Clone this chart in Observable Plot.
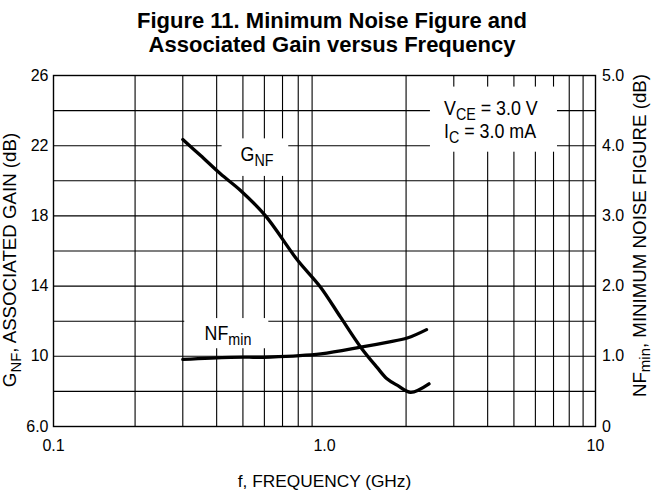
<!DOCTYPE html>
<html>
<head>
<meta charset="utf-8">
<script src="https://cdn.jsdelivr.net/npm/d3@7"></script>
<script src="https://cdn.jsdelivr.net/npm/@observablehq/plot@0.6"></script>
<style>
  body { margin: 0; background: #fff; }
  #title {
    width: 642px; padding: 9px 0 0 11px; margin: 0;
    font: bold 22px/24px "Liberation Sans", Arial, Helvetica, sans-serif;
    text-align: center; color: #000;
  }
  #chart svg { display: block; }
</style>
</head>
<body>
<div id="title">Figure 11. Minimum Noise Figure and<br>Associated Gain versus Frequency</div>
<div id="chart"></div>
<script>
// ---- data ----
const freqGNF = [0.3, 0.349, 0.413, 0.49, 0.606, 0.793, 0.967, 1.146, 1.36, 1.56, 1.70, 1.86, 2.08, 2.43];
const gainGNF = [22.35, 21.44, 20.4, 19.45, 18.0, 15.5, 13.94, 12.23, 10.52, 9.38, 8.72, 8.34, 7.95, 8.43];
const freqNF  = [0.3, 0.45, 0.632, 0.97, 1.36, 1.70, 2.02, 2.38];
const nfMin   = [0.955, 0.985, 0.99, 1.035, 1.13, 1.2, 1.26, 1.38];

const xTicks = [0.1, 1, 10];
const xTickLabels = ["0.1", "1.0", "10"];
const leftTicks = [6, 10, 14, 18, 22, 26];
const leftTickLabels = ["6.0", "10", "14", "18", "22", "26"];
const rightTicks = [0, 1, 2, 3, 4, 5];
const rightTickLabels = ["0", "1.0", "2.0", "3.0", "4.0", "5.0"];

const gridFreqs = [0.2, 0.3, 0.4, 0.5, 0.6, 0.7, 0.8, 0.9, 2, 3, 4, 5, 6, 7, 8, 9];
const gridGain = [8, 10, 12, 14, 16, 18, 20, 22, 24];

// annotation labels and their white backing boxes
const labelText = ["G_{NF}", "NF_{min}", "V_{CE} = 3.0 V\nI_{C} = 3.0 mA"];
const labelFreq = [0.49, 0.361, 2.76];
const labelGain = [21.53, 11.37, 23.54];
const boxF1 = [0.419, 0.305, 2.46];
const boxF2 = [0.738, 0.623, 7.24];
const boxG1 = [22.39, 12.15, 25.34];
const boxG2 = [20.25, 10.43, 21.63];

const xTitle = "f, FREQUENCY (GHz)";
const yLeftTitle = "G_{NF}, ASSOCIATED GAIN (dB)";
const yRightTitle = "NF_{min}, MINIMUM NOISE FIGURE (dB)";

// right axis (dB noise figure) maps onto left axis (dB gain)
const nfToGain = v => v * 4 + 6;

const gnfData = freqGNF.map((f, i) => ({f, g: gainGNF[i]}));
const nfData = freqNF.map((f, i) => ({f, nf: nfMin[i]}));
const labels = labelText.map((t, i) => ({t, f: labelFreq[i], g: labelGain[i]}));
const boxes = boxF1.map((f1, i) => ({f1, f2: boxF2[i], g1: boxG1[i], g2: boxG2[i]}));

const chart = Plot.plot({
  width: 653, height: 440,
  marginLeft: 53, marginRight: 58, marginTop: 18, marginBottom: 71,
  style: {fontFamily: "'Liberation Sans', Arial, Helvetica, sans-serif", fontSize: "16px", background: "white", color: "black"},
  x: {type: "log", domain: [0.1, 10]},
  y: {domain: [6, 26]},
  marks: [
    Plot.ruleX(gridFreqs, {stroke: "black", strokeWidth: 1.1}),
    Plot.ruleY(gridGain, {stroke: "black", strokeWidth: 1.1}),
    Plot.rect(boxes, {x1: "f1", x2: "f2", y1: "g1", y2: "g2", fill: "white"}),
    Plot.frame({stroke: "black", strokeWidth: 1.4}),
    Plot.line(gnfData, {x: "f", y: "g", curve: "catmull-rom", stroke: "black", strokeWidth: 3.3, strokeLinecap: "round"}),
    Plot.line(nfData, {x: "f", y: d => nfToGain(d.nf), curve: "catmull-rom", stroke: "black", strokeWidth: 3.3, strokeLinecap: "round"}),
    Plot.axisX(xTicks, {anchor: "bottom", tickSize: 0, tickPadding: 13, tickFormat: d => xTickLabels[xTicks.indexOf(d)], label: null, fontSize: 16}),
    Plot.axisY(leftTicks, {anchor: "left", tickSize: 0, tickPadding: 5, tickFormat: d => leftTickLabels[leftTicks.indexOf(d)], label: null, fontSize: 16}),
    Plot.text(rightTicks, {y: d => nfToGain(d), text: (d, i) => rightTickLabels[i], frameAnchor: "right", textAnchor: "start", dx: 6.5, fontSize: 16}),
    Plot.text(labels, {x: "f", y: "g", text: "t", textAnchor: "start", lineAnchor: "middle", lineHeight: 1.1,
      fontFamily: "'Liberation Sans', Arial, sans-serif", fontSize: 21}),
    Plot.text([xTitle], {text: d => d, frameAnchor: "bottom", textAnchor: "middle", lineAnchor: "middle", dy: 55, fontSize: 17.3}),
    Plot.text([yLeftTitle], {text: d => d, frameAnchor: "left", textAnchor: "middle", lineAnchor: "middle", rotate: -90, dx: -43, dy: 9, fontSize: 18.7}),
    Plot.text([yRightTitle], {text: d => d, frameAnchor: "right", textAnchor: "middle", lineAnchor: "middle", rotate: -90, dx: 44.5, dy: -15.5, fontSize: 18.7})
  ]
});

// turn "_{...}" into subscript tspans (works on plain texts and on line tspans)
function subscriptify(node) {
  const t = node.textContent;
  if (!t.includes("_{")) return;
  const el = d3.select(node);
  el.text(null);
  let afterSub = false;
  for (const p of t.split(/(_\{[^}]*\})/)) {
    if (!p) continue;
    if (p.startsWith("_{")) {
      el.append("tspan").attr("font-size", "80%").attr("dy", "0.3em").text(p.slice(2, -1));
      afterSub = true;
    } else {
      const ts = el.append("tspan");
      if (afterSub) ts.attr("dy", "-0.24em");
      ts.text(p);
      afterSub = false;
    }
  }
}
d3.select(chart).selectAll("text").each(function() {
  const lines = this.querySelectorAll("tspan");
  if (lines.length) lines.forEach(subscriptify); else subscriptify(this);
});
// condensed lettering for the in-plot annotations
d3.select(chart).selectAll("g[font-family] text").each(function() {
  const tr = this.getAttribute("transform") || "";
  this.setAttribute("transform", tr + " scale(0.85,1)");
});

document.getElementById("chart").appendChild(chart);
</script>
</body>
</html>
